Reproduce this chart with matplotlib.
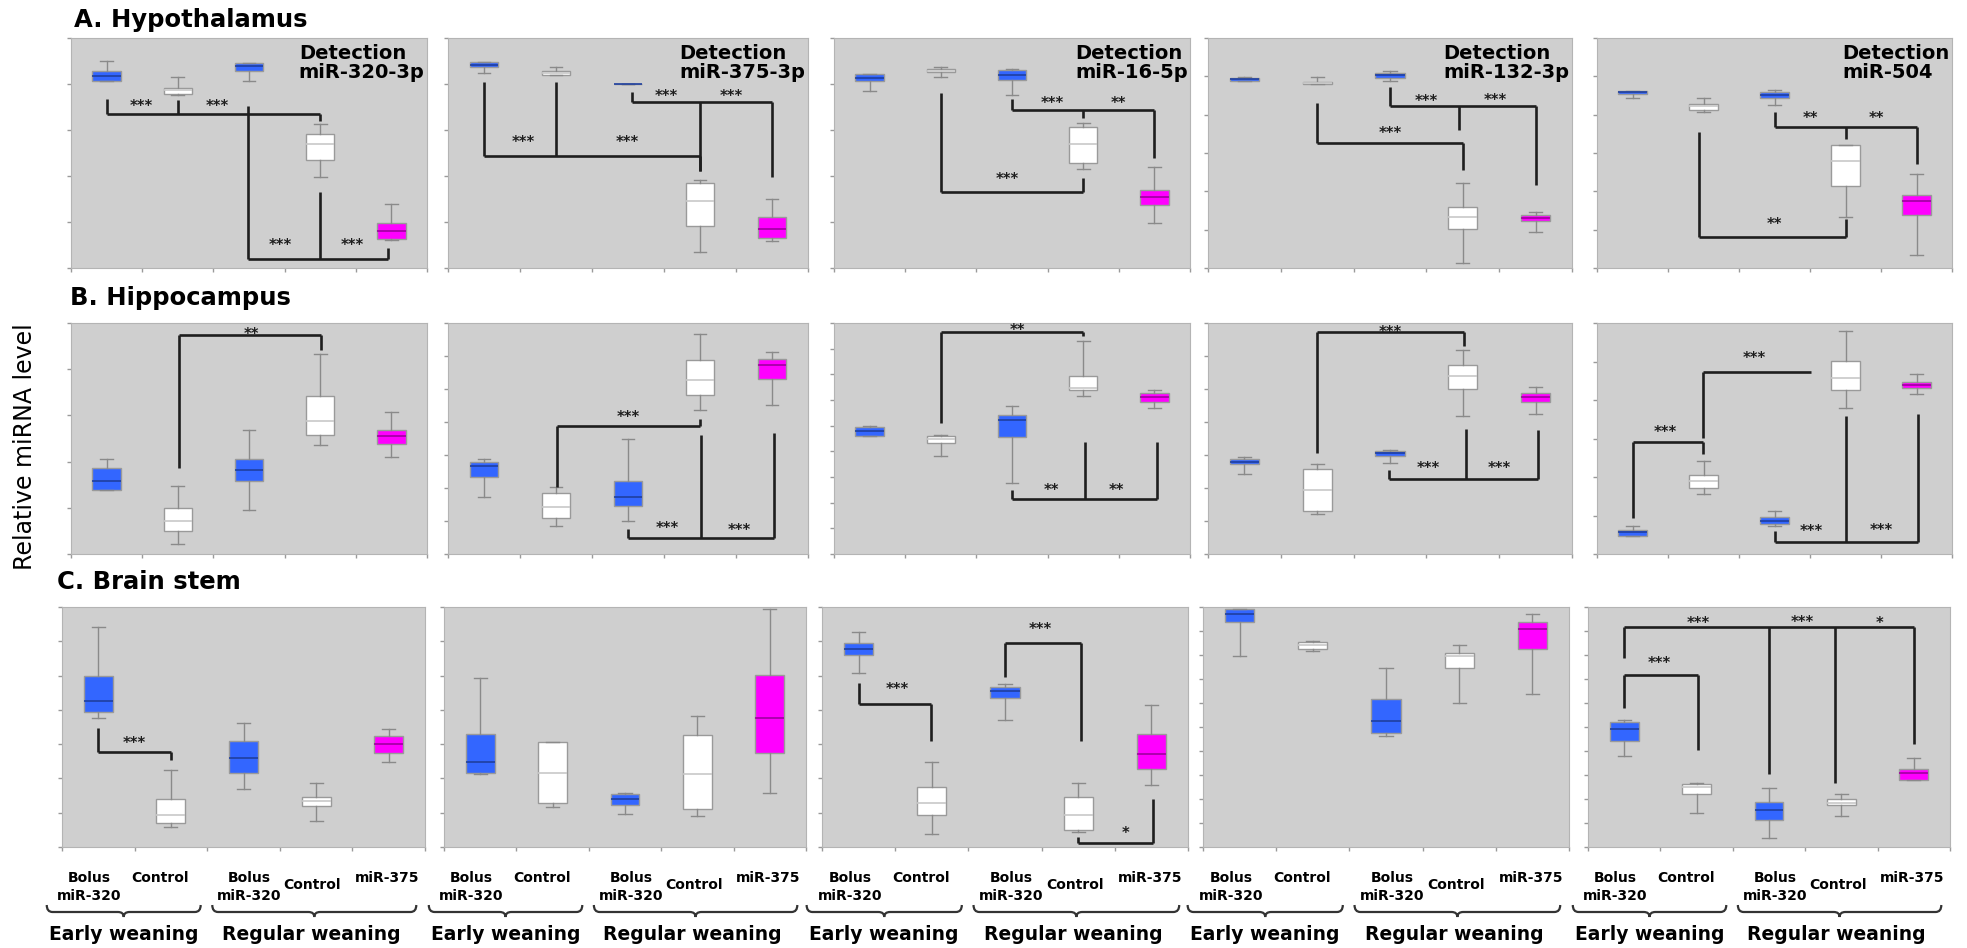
import matplotlib
matplotlib.use('Agg')
import matplotlib.pyplot as plt
from matplotlib.path import Path
from matplotlib.patches import PathPatch
from matplotlib.transforms import blended_transform_factory

# Five-number summaries per group: [whisker low, Q1, median, Q3, whisker high]
# groups: early bolus miR-320, early control, regular bolus miR-320, regular control, miR-375
hyp_320 = [[81.2, 81.2, 83.3, 85.8, 90.1], [75.1, 75.8, 77.2, 78.1, 83.0], [81.4, 85.8, 87.7, 89.1, 89.1],
           [39.6, 47.0, 53.9, 58.4, 62.6], [12.3, 12.8, 15.9, 19.6, 28.0]]
hyp_375 = [[84.8, 87.3, 88.4, 89.4, 89.4], [83.9, 83.9, 84.8, 85.7, 87.3], [80.2, 80.2, 80.2, 80.2, 80.2],
           [6.9, 18.1, 29.1, 36.9, 38.4], [11.7, 13.2, 17.1, 22.0, 29.8]]
hyp_16 = [[76.8, 81.3, 82.8, 84.2, 84.2], [82.9, 85.4, 85.8, 86.5, 87.3], [75.0, 81.8, 83.9, 86.3, 86.5],
          [43.1, 45.7, 53.8, 61.1, 63.0], [19.7, 27.6, 30.8, 34.0, 43.9]]
hyp_132 = [[81.5, 81.5, 82.2, 82.8, 83.2], [79.9, 79.9, 80.3, 80.8, 83.2], [81.5, 82.8, 83.9, 84.8, 85.7],
           [2.3, 16.8, 22.1, 26.5, 37.0], [15.6, 20.3, 21.7, 22.9, 24.3]]
hyp_504 = [[73.8, 75.8, 76.4, 77.0, 77.1], [68.0, 68.9, 70.3, 71.2, 73.8], [70.9, 73.8, 75.3, 76.7, 77.6],
           [22.0, 35.5, 46.5, 53.3, 53.5], [5.5, 22.9, 29.1, 31.8, 41.0]]

hip_320 = [[27.6, 27.6, 31.8, 37.4, 41.2], [4.2, 10.1, 14.3, 19.8, 29.5], [19.1, 31.8, 36.4, 41.2, 53.8],
           [47.3, 51.3, 57.7, 68.2, 86.7], [42.1, 47.7, 50.9, 53.8, 61.4]]
hip_375 = [[24.6, 33.2, 38.2, 40.0, 41.2], [12.1, 15.5, 20.5, 26.3, 29.2], [14.3, 20.9, 24.6, 31.4, 49.7],
           [62.4, 68.9, 75.4, 84.1, 95.2], [64.6, 75.9, 81.9, 84.4, 87.4]]
hip_16 = [[50.9, 51.2, 53.2, 54.9, 55.2], [42.6, 48.0, 49.7, 51.2, 51.6], [30.9, 50.7, 58.0, 60.1, 64.2],
          [68.5, 70.8, 71.8, 76.9, 92.1], [63.2, 66.0, 67.9, 69.7, 71.1]]
hip_132 = [[34.7, 39.0, 40.0, 41.2, 41.9], [17.3, 18.4, 27.7, 36.8, 38.9], [39.3, 42.5, 43.6, 44.4, 45.1],
           [59.8, 71.4, 77.2, 81.9, 88.2], [60.5, 66.0, 67.9, 69.7, 72.1]]
hip_504 = [[7.9, 7.9, 9.4, 10.4, 12.1], [26.0, 28.5, 31.4, 34.2, 40.3], [12.1, 12.9, 14.5, 15.9, 18.4],
           [63.2, 71.1, 76.4, 83.4, 96.7], [69.2, 71.8, 73.1, 74.3, 78.0]]

brs_320 = [[53.9, 56.1, 61.0, 71.4, 91.5], [8.4, 10.2, 13.5, 20.2, 32.0], [24.2, 30.9, 37.2, 44.3, 51.5],
           [10.9, 17.0, 19.1, 20.9, 26.5], [35.5, 39.3, 42.8, 46.4, 49.2]]
brs_375 = [[30.4, 30.9, 35.5, 47.1, 70.3], [16.7, 18.5, 30.9, 43.6, 43.9], [13.6, 17.7, 20.2, 22.0, 22.7],
           [12.8, 16.0, 30.4, 46.7, 54.6], [22.7, 39.3, 53.9, 71.7, 99.2]]
brs_16 = [[72.7, 80.1, 82.6, 85.0, 89.4], [5.3, 13.2, 18.4, 24.8, 35.5], [52.9, 62.0, 64.8, 66.6, 68.0],
          [6.3, 7.2, 13.5, 20.9, 26.5], [25.8, 32.3, 38.7, 47.1, 59.2]]
brs_132 = [[79.4, 93.6, 97.0, 99.2, 99.2], [81.8, 82.7, 84.1, 85.4, 85.7], [46.2, 47.7, 52.6, 61.6, 74.5],
           [59.9, 74.4, 79.4, 80.8, 84.1], [63.6, 82.7, 90.8, 93.6, 97.1]]
brs_504 = [[37.9, 44.3, 49.2, 52.2, 52.9], [14.3, 21.9, 24.8, 26.2, 26.7], [3.9, 11.4, 15.3, 18.8, 24.4],
           [13.0, 17.7, 18.5, 19.8, 21.9], [27.9, 27.9, 30.9, 32.7, 37.2]]

# significance brackets: (leg x positions, bar level, leg end levels)
hyp_320_br = [([0.5, 1.5, 3.5], 67.0, [73.5, 73.2, 63.8]), ([2.48, 3.5, 4.45], 3.9, [70.3, 32.9, 8.7])]
hyp_320_st = [(0.99, 72.2, '***'), (2.06, 72.2, '***'), (2.94, 11.6, '***'), (3.95, 11.6, '***')]
hyp_375_br = [([0.5, 1.5, 3.5], 48.9, [81.0, 80.8, 42.0]), ([2.56, 3.5, 4.5], 72.1, [76.4, 42.0, 39.5])]
hyp_375_st = [(1.05, 56.2, '***'), (2.49, 56.2, '***'), (3.03, 76.4, '***'), (3.94, 76.4, '***')]
hyp_16_br = [([1.5, 3.5], 33.0, [76.1, 39.1]), ([2.5, 3.5, 4.5], 68.9, [73.5, 65.1, 47.8])]
hyp_16_st = [(2.44, 40.2, '***'), (3.07, 73.2, '***'), (4.0, 73.2, '**')]
hyp_132_br = [([1.5, 3.5], 54.4, [71.8, 42.8]), ([2.5, 3.45, 4.5], 70.3, [78.6, 59.8, 36.2])]
hyp_132_st = [(2.5, 60.1, '***'), (3.0, 74.1, '***'), (3.95, 74.7, '***')]
hyp_504_br = [([1.44, 3.5], 13.5, [59.0, 21.4]), ([2.5, 3.5, 4.5], 61.5, [67.7, 56.2, 45.3])]
hyp_504_st = [(2.5, 20.7, '**'), (3.0, 67.0, '**'), (3.93, 67.0, '**')]

hip_320_br = [([1.52, 3.51], 94.7, [37.4, 88.4])]
hip_320_st = [(2.54, 96.8, '**')]
hip_375_br = [([1.52, 3.5], 55.5, [29.2, 58.5]), ([2.5, 3.52, 4.53], 6.8, [10.7, 51.6, 52.3])]
hip_375_st = [(2.5, 60.7, '***'), (3.05, 13.0, '***'), (4.05, 11.8, '***')]
hip_16_br = [([1.5, 3.5], 96.1, [56.6, 94.2]), ([2.5, 3.53, 4.53], 23.7, [27.7, 48.3, 48.3])]
hip_16_st = [(2.58, 98.6, '**'), (3.05, 29.5, '**'), (3.97, 29.5, '**')]
hip_132_br = [([1.5, 3.52], 96.0, [43.9, 90.2]), ([2.49, 3.54, 4.53], 32.4, [36.4, 54.2, 53.8])]
hip_132_st = [(2.51, 97.8, '***'), (3.03, 39.0, '***'), (4.0, 39.0, '***')]
hip_504_br = [([0.5, 1.49], 48.3, [15.5, 43.4]), ([1.49, 3.02], 79.0, [50.1, 79.0]),
              ([2.5, 3.5, 4.52], 5.1, [10.0, 59.8, 60.5])]
hip_504_st = [(0.96, 54.6, '***'), (2.21, 86.3, '***'), (3.02, 11.4, '***'), (4.0, 12.1, '***')]

brs_320_br = [([0.49, 1.5], 39.7, [49.4, 36.2])]
brs_320_st = [(1.0, 44.8, '***')]
brs_16_br = [([0.5, 1.49], 59.6, [68.5, 44.3]), ([2.5, 3.54], 85.2, [71.0, 44.3]), ([3.5, 4.52], 1.8, [4.2, 20.2])]
brs_16_st = [(1.03, 67.4, '***'), (2.98, 92.5, '***'), (4.14, 7.2, '*')]
brs_504_br = [([0.5, 2.5, 3.41, 4.5], 91.5, [78.7, 30.6, 26.5, 42.9]), ([0.5, 1.52], 71.7, [58.1, 40.4])]
brs_504_st = [(1.52, 94.7, '***'), (2.96, 95.4, '***'), (4.03, 94.7, '*'), (0.99, 78.3, '***')]

mirnas = ['miR-320-3p', 'miR-375-3p', 'miR-16-5p', 'miR-132-3p', 'miR-504']
regions = ['A. Hypothalamus', 'B. Hippocampus', 'C. Brain stem']
group_labels = [['Bolus', 'miR-320'], ['Control'], ['Bolus', 'miR-320'], ['Control'], ['miR-375']]
weaning_labels = ['Early weaning', 'Regular weaning']
n_grid = [[5, 5, 5, 6, 6], [5, 7, 9, 7, 6], [7, 7, 7, 10, 10]]

rows = [
    [(hyp_320, hyp_320_br, hyp_320_st), (hyp_375, hyp_375_br, hyp_375_st), (hyp_16, hyp_16_br, hyp_16_st),
     (hyp_132, hyp_132_br, hyp_132_st), (hyp_504, hyp_504_br, hyp_504_st)],
    [(hip_320, hip_320_br, hip_320_st), (hip_375, hip_375_br, hip_375_st), (hip_16, hip_16_br, hip_16_st),
     (hip_132, hip_132_br, hip_132_st), (hip_504, hip_504_br, hip_504_st)],
    [(brs_320, brs_320_br, brs_320_st), (brs_375, [], []), (brs_16, brs_16_br, brs_16_st),
     (brs_132, [], []), (brs_504, brs_504_br, brs_504_st)],
]

BLUE = '#3366ff'
MAGENTA = '#ff00ff'
box_colors = [BLUE, 'white', BLUE, 'white', MAGENTA]
median_colors = ['#1f3f9f', '#c8c8c8', '#1f3f9f', '#c8c8c8', '#a000a0']
positions = [0.5, 1.5, 2.5, 3.5, 4.5]
LINE = '#1e1e1e'

W, H = 1967, 948
fig = plt.figure(figsize=(W / 100, H / 100), dpi=100)

# panel edges in pixels
cols_ab = [(71, 427), (448, 808), (834, 1190), (1208, 1572), (1597, 1952)]
cols_c = [(62, 425), (444, 806), (822, 1188), (1203, 1569), (1588, 1950)]
row_y = [(38, 268), (323, 554), (607, 847)]
title_y = [20, 298, 582]
title_x = [74, 70, 57]


def brace(ax, x0, x1):
    tr = blended_transform_factory(ax.transData, fig.transFigure)
    yt, yb, yp = 1 - 905 / H, 1 - 912 / H, 1 - 917 / H
    xm = (x0 + x1) / 2
    d = 0.08
    verts = [(x0, yt), (x0, yb), (x0 + d, yb), (xm - d, yb), (xm, yb), (xm, yp),
             (xm, yb), (xm + d, yb), (x1 - d, yb), (x1, yb), (x1, yt)]
    codes = [Path.MOVETO, Path.CURVE3, Path.CURVE3, Path.LINETO, Path.CURVE3, Path.CURVE3,
             Path.CURVE3, Path.CURVE3, Path.LINETO, Path.CURVE3, Path.CURVE3]
    ax.add_patch(PathPatch(Path(verts, codes), transform=tr, fill=False, edgecolor='#333333',
                           lw=1.6, clip_on=False))


for r, row in enumerate(rows):
    cols = cols_c if r == 2 else cols_ab
    t, b = row_y[r]
    fig.text(title_x[r] / W, 1 - title_y[r] / H, regions[r], fontsize=17.5, fontweight='bold', va='center')
    for c, (stats, brackets, stars) in enumerate(row):
        l, rr = cols[c]
        ax = fig.add_axes([l / W, 1 - b / H, (rr - l) / W, (b - t) / H])
        ax.set_facecolor('#cfcfcf')
        ax.set_xlim(0, 5)
        ax.set_ylim(0, 100)
        n = n_grid[r][c]
        ax.set_xticks(range(6))
        ax.set_yticks([100 * i / n for i in range(n + 1)])
        ax.set_xticklabels([])
        ax.set_yticklabels([])
        ax.tick_params(direction='out', length=3, width=1, color='#9a9a9a')
        for sp in ax.spines.values():
            sp.set_color('#b4b4b4')

        bstats = [dict(whislo=s[0], q1=s[1], med=s[2], q3=s[3], whishi=s[4]) for s in stats]
        art = ax.bxp(bstats, positions=positions, widths=0.4, capwidths=0.18, patch_artist=True,
                     showfliers=False, manage_ticks=False,
                     boxprops=dict(edgecolor='#9a9a9a', linewidth=1),
                     whiskerprops=dict(color='#8a8a8a', linewidth=1),
                     capprops=dict(color='#8a8a8a', linewidth=1),
                     medianprops=dict(linewidth=1.2))
        for patch, fc in zip(art['boxes'], box_colors):
            patch.set_facecolor(fc)
        for med, mc in zip(art['medians'], median_colors):
            med.set_color(mc)

        for legs, bar, ends in brackets:
            ax.plot([min(legs), max(legs)], [bar, bar], color=LINE, lw=1.9, solid_capstyle='butt')
            for x, e in zip(legs, ends):
                ax.plot([x, x], [bar, e], color=LINE, lw=1.9, solid_capstyle='butt')
        for x, y, s in stars:
            ax.annotate(s, (x, y), xytext=(0, -3), textcoords='offset points', ha='center', va='center',
                        fontsize=10.5, fontweight='bold', color=LINE, annotation_clip=False)

        if r == 0:
            ax.text(0.993, 0.975, 'Detection\n' + mirnas[c], transform=ax.transAxes, ha='right', va='top',
                    multialignment='left', fontsize=14, fontweight='bold', linespacing=1.05)

        if r == 2:
            tr = blended_transform_factory(ax.transData, fig.transFigure)
            lab_x = [0.38, 1.35, 2.58, 3.45, 4.48]
            for k, lab in enumerate(group_labels):
                if len(lab) == 2:
                    ax.text(lab_x[k], 1 - 878 / H, lab[0], transform=tr, ha='center', va='center',
                            fontsize=10, fontweight='bold')
                    ax.text(lab_x[k], 1 - 896 / H, lab[1], transform=tr, ha='center', va='center',
                            fontsize=10, fontweight='bold')
                else:
                    yy = 885 if k == 3 else 878
                    ax.text(lab_x[k], 1 - yy / H, lab[0], transform=tr, ha='center', va='center',
                            fontsize=10, fontweight='bold')
            brace(ax, -0.21, 1.91)
            brace(ax, 2.07, 4.88)
            ax.text(0.85, 1 - 934 / H, weaning_labels[0], transform=tr, ha='center', va='center',
                    fontsize=13.5, fontweight='bold')
            ax.text(3.43, 1 - 935 / H, weaning_labels[1], transform=tr, ha='center', va='center',
                    fontsize=13.5, fontweight='bold')

fig.text(25 / W, 1 - 447 / H, 'Relative miRNA level', rotation=90, ha='center', va='center', fontsize=17)

fig.savefig('out.png', dpi=100, facecolor='white')
